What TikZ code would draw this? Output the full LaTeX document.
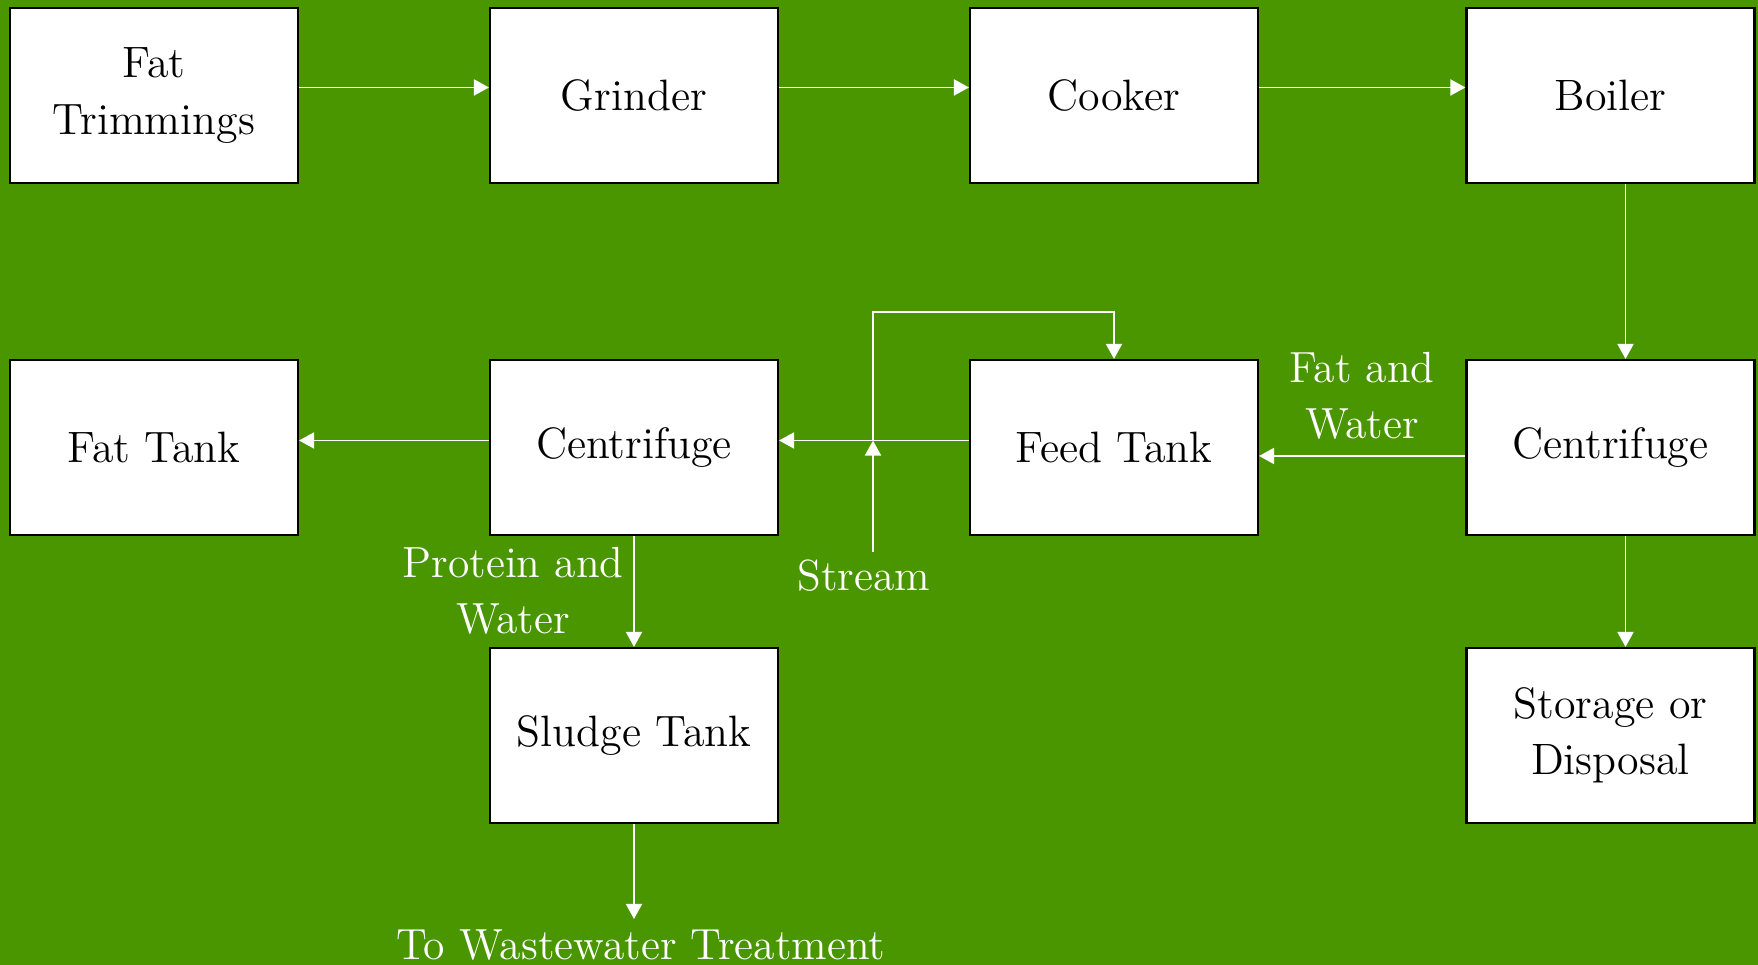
\documentclass[tikz,border=0pt]{standalone}
\usepackage{xcolor}
\usetikzlibrary{arrows.meta}
\definecolor{bggreen}{RGB}{74,150,0}

\begin{document}
\begin{tikzpicture}[
  box/.style={draw=black, line width=0.6pt, fill=white, minimum width=2.88cm,
    minimum height=1.75cm, inner sep=0pt, align=center,
    font=\fontsize{12.5}{16}\selectfont},
  flow/.style={draw=white, line width=0.5pt, -{Triangle[length=4.3pt,width=4.6pt]}},
  lbl/.style={text=white, align=center, inner sep=0pt, font=\fontsize{12.4}{16}\selectfont}
]

\fill[bggreen] (0,0) rectangle (17.58,9.65);
\useasboundingbox (0,0) rectangle (17.58,9.65);

% first row
\node[box] (trim) at (1.54,8.695) {Fat\\Trimmings};
\node[box] (grind) at (6.34,8.695) {Grinder};
\node[box] (cook) at (11.14,8.695) {Cooker};
\node[box] (boil) at (16.105,8.695) {Boiler};

% second row
\node[box] (fattank) at (1.54,5.175) {Fat Tank};
\node[box] (centl) at (6.34,5.175) {Centrifuge};
\node[box] (feed) at (11.14,5.175) {Feed Tank};
\node[box] (centr) at (16.105,5.175) {Centrifuge};

% third row
\node[box] (sludge) at (6.34,2.295) {Sludge Tank};
\node[box] (store) at (16.105,2.295) {Storage or\\Disposal};

% labels
\node[lbl] (fatwater) at (13.62,5.69) {Fat and\\Water};
\node[lbl] (protwater) at (5.13,3.74) {Protein and\\Water};
\node[lbl] (stream) at (8.64,3.89) {Stream};
\node[lbl] (waste) at (6.41,0.20) {To Wastewater Treatment};

\coordinate (streamin) at (8.73,4.13);
\coordinate (jn) at (8.73,5.244);
\coordinate (loop) at (8.73,6.53);
\coordinate (wasteout) at (6.34,0.46);

% connectors
\draw[flow] ([yshift=0.8mm]trim.east) -- ([yshift=0.8mm]grind.west);
\draw[flow] ([yshift=0.8mm]grind.east) -- ([yshift=0.8mm]cook.west);
\draw[flow] ([yshift=0.8mm]cook.east) -- ([yshift=0.8mm]boil.west);
\draw[flow] ([xshift=1.5mm]boil.south) -- ([xshift=1.5mm]centr.north);
\draw[flow] ([yshift=-0.85mm]centr.west) -- ([yshift=-0.85mm]feed.west -| feed.east);
\draw[flow] ([yshift=0.7mm]feed.west) -- ([yshift=0.7mm]centl.east);
\draw[flow] ([yshift=0.7mm]centl.west) -- ([yshift=0.7mm]fattank.east);
\draw[flow] (streamin) -- (jn);
\draw[flow] (jn) -- (loop) -| (feed.north);
\draw[flow] (centl.south) -- (sludge.north);
\draw[flow] (sludge.south) -- (wasteout);
\draw[flow] ([xshift=1.5mm]centr.south) -- ([xshift=1.5mm]store.north);

\end{tikzpicture}
\end{document}
